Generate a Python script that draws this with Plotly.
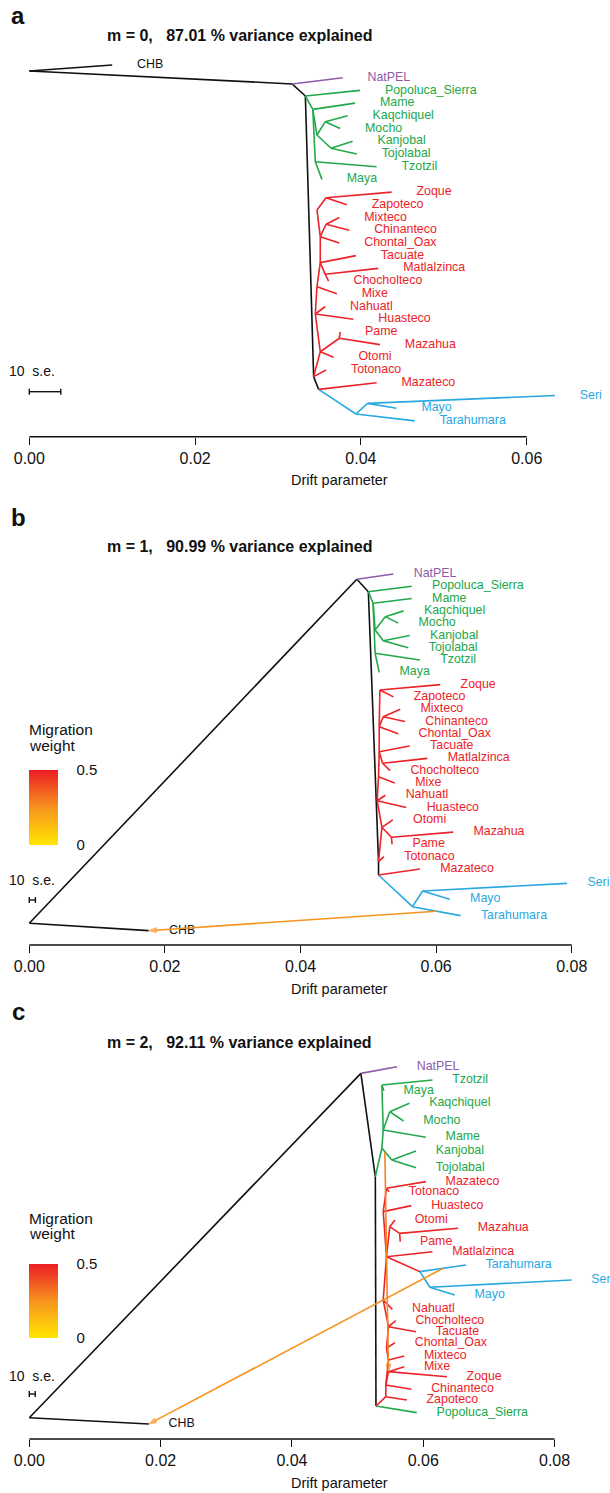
import plotly.graph_objects as go
from plotly.colors import sample_colorscale

W, H = 610, 1493
FONT = "Liberation Sans, Arial, Helvetica, sans-serif"

# ---------------- panel a (m = 0) ----------------
A_NAME = ["root", "CHB", "n1", "NatPEL", "n2", "nt", "nb",
          "Popoluca_Sierra", "m0", "Mame", "m1", "k1", "Kaqchiquel", "Mocho", "k2", "Kanjobal", "Tojolabal", "m2", "Tzotzil", "Maya",
          "ro", "Otomi", "pm", "Pame", "Mazahua", "Totonaco", "Mazateco", "rn", "Nahuatl", "Huasteco", "rm", "Mixe", "rt", "Tacuate",
          "rmc", "Matlalzinca", "Chocholteco", "rc", "Chontal_Oax", "rb", "Mixteco", "Chinanteco", "rz", "ra", "Zoque", "Zapoteco",
          "nn", "ns", "Seri", "Mayo", "Tarahumara"]
A_PARENT = [None, "root", "root", "n1", "n1", "n2", "nt",
            "n2", "n2", "m0", "m0", "m1", "k1", "k1", "m1", "k2", "k2", "m0", "m2", "m2",
            "nt", "ro", "ro", "pm", "pm", "nt", "nb", "ro", "rn", "rn", "rn", "rm", "rm", "rt",
            "rt", "rmc", "rmc", "rt", "rc", "rc", "rb", "rb", "rc", "rz", "ra", "ra",
            "nb", "nn", "ns", "ns", "nn"]
A_DRIFT = [0.0, 0.0100, 0.0317, 0.0378, 0.0333, 0.0343, 0.0349,
           0.0399, 0.0342, 0.0393, 0.0347, 0.0357, 0.0384, 0.0375, 0.0364, 0.0390, 0.0395, 0.0345, 0.0419, 0.0353,
           0.0351, 0.0367, 0.0374, 0.0375, 0.0423, 0.0358, 0.0419, 0.0345, 0.0357, 0.0391, 0.0347, 0.0371, 0.0351, 0.0394,
           0.0357, 0.0421, 0.0361, 0.0351, 0.0374, 0.0358, 0.0374, 0.0386, 0.0347, 0.0358, 0.0437, 0.0383,
           0.0394, 0.0408, 0.0634, 0.0443, 0.0465]
A_Y = [0.47, 0, 1.49, 1, 2.44, 24.52, 25.52,
       2, 3.49, 3, 5.51, 4.46, 4, 5, 6.55, 6, 7, 7.61, 8, 9,
       22.56, 23, 21.5, 21, 22, 24, 25, 19.59, 19, 20, 17.44, 18, 15.55, 15,
       16.47, 16, 17, 13.51, 14, 12.53, 12, 13, 11.41, 10.44, 10, 11,
       27.46, 26.62, 26, 27, 28]
A_GROUP = ["k", "k", "k", "p", "k", "k", "k"] + ["g"] * 13 + ["r"] * 26 + ["b"] * 5
A_MIG_FROM, A_MIG_AT, A_MIG_TO, A_MIG_W = [], [], [], []
A_TICKS = [0.00, 0.02, 0.04, 0.06]
A_TITLE = "m = 0,\u00a0\u00a0\u00a087.01 % variance explained"
A_SE10 = 0.0038

# ---------------- panel b (m = 1) ----------------
B_NAME = ["root", "CHB", "n1", "NatPEL", "n2", "nt", "nb",
          "Popoluca_Sierra", "m0", "Mame", "m1", "k1", "Kaqchiquel", "Mocho", "k2", "Kanjobal", "Tojolabal", "m2", "Tzotzil", "Maya",
          "ro", "Otomi", "pm", "Mazahua", "Pame", "Totonaco", "Mazateco", "rn", "Nahuatl", "Huasteco", "rm", "Mixe", "rt", "Tacuate",
          "rmc", "Matlalzinca", "Chocholteco", "rc", "Chontal_Oax", "rb", "Mixteco", "Chinanteco", "ra", "Zoque", "Zapoteco",
          "nn", "ns", "Seri", "Mayo", "Tarahumara"]
B_PARENT = [None, "root", "root", "n1", "n1", "n2", "nt",
            "n2", "n2", "m0", "m0", "m1", "k1", "k1", "m1", "k2", "k2", "m0", "m2", "m2",
            "nt", "ro", "ro", "pm", "pm", "nt", "nb", "ro", "rn", "rn", "rn", "rm", "rm", "rt",
            "rt", "rmc", "rmc", "rt", "rc", "rc", "rb", "rb", "rc", "ra", "ra",
            "nb", "nn", "ns", "ns", "nn"]
B_DRIFT = [0.0, 0.0176, 0.0483, 0.0537, 0.0500, 0.0515, 0.0515,
           0.0564, 0.0507, 0.0564, 0.0510, 0.0525, 0.0552, 0.0544, 0.0522, 0.0561, 0.0559, 0.0510, 0.0576, 0.0516,
           0.0520, 0.0536, 0.0534, 0.0625, 0.0535, 0.0523, 0.0576, 0.0513, 0.0525, 0.0556, 0.0515, 0.0539, 0.0516, 0.0561,
           0.0521, 0.0587, 0.0532, 0.0516, 0.0544, 0.0522, 0.0547, 0.0554, 0.0517, 0.0606, 0.0537,
           0.0565, 0.0580, 0.0793, 0.0620, 0.0636]
B_Y = [28.42, 29.02, 0.43, 0, 1.44, 23.41, 24.49,
       1, 2.38, 2, 4.56, 3.47, 3, 4, 5.43, 5, 6, 6.45, 7, 8,
       20.61, 20, 21.42, 21, 22, 23, 24, 18.45, 18, 19, 16.49, 17, 14.46, 14,
       15.40, 15, 16, 12.42, 13, 11.61, 11, 12, 9.44, 9, 10,
       27.07, 25.79, 25.17, 26.47, 27.8]
B_GROUP = ["k", "k", "k", "p", "k", "k", "k"] + ["g"] * 13 + ["r"] * 25 + ["b"] * 5
B_MIG_FROM = ["Tarahumara"]
B_MIG_AT = [0.5]
B_MIG_TO = ["CHB"]
B_MIG_W = [0.25]
B_TICKS = [0.00, 0.02, 0.04, 0.06, 0.08]
B_TITLE = "m = 1,\u00a0\u00a0\u00a090.99 % variance explained"
B_SE10 = 0.0009

# ---------------- panel c (m = 2) ----------------
C_NAME = ["root", "CHB", "n1", "NatPEL", "ng", "nbot",
          "Popoluca_Sierra", "g3", "gt", "Kanjobal", "Tojolabal", "g1", "gk", "Kaqchiquel", "Mocho", "Mame", "gm", "Tzotzil", "Maya",
          "rr", "Zapoteco", "r1", "Chinanteco", "r2", "Zoque", "Mixe", "r3", "Mixteco", "r4", "Chontal_Oax", "r5", "Chocholteco",
          "Tacuate", "r6", "Nahuatl", "r7", "Matlalzinca", "ttr",
          "Tarahumara", "ns", "Seri", "Mayo",
          "oa", "Otomi", "ob", "Mazahua", "Pame", "r9", "Huasteco", "r10", "Mazateco", "Totonaco"]
C_PARENT = [None, "root", "root", "n1", "n1", "ng",
            "nbot", "ng", "g3", "gt", "gt", "g3", "g1", "gk", "gk", "g1", "g1", "gm", "gm",
            "nbot", "rr", "rr", "r1", "r1", "r2", "r2", "r1", "r3", "r3", "r4", "r4", "r5",
            "r5", "r5", "r6", "r6", "r7", "r7",
            "ttr", "ttr", "ns", "ns",
            "r7", "oa", "oa", "ob", "ob", "r7", "r9", "r9", "r10", "r10"]
C_DRIFT = [0.0, 0.0182, 0.0505, 0.0560, 0.0527, 0.0528,
           0.0590, 0.0537, 0.0552, 0.0589, 0.0589, 0.0539, 0.0549, 0.0579, 0.0570, 0.0604, 0.0537, 0.0614, 0.0540,
           0.0543, 0.0575, 0.0543, 0.0582, 0.0547, 0.0636, 0.0571, 0.0547, 0.0571, 0.0544, 0.0557, 0.0547, 0.0558,
           0.0589, 0.0539, 0.0553, 0.0544, 0.0614, 0.0595,
           0.0665, 0.0610, 0.0826, 0.0648,
           0.0549, 0.0557, 0.0564, 0.0653, 0.0565, 0.0539, 0.0582, 0.0544, 0.0604, 0.0548]
C_Y = [27.49, 27.98, 0.52, 0, 8.61, 26.57,
       27.09, 6.37, 7.31, 6.60, 7.91, 4.96, 3.52, 2.87, 4.25, 5.53, 1.43, 1.04, 1.88,
       25.84, 26.10, 24.93, 25.26, 23.88, 24.28, 23.49, 22.97, 22.65, 22.05, 21.61, 20.36, 19.89,
       20.75, 18.27, 19.0, 14.88, 14.49, 16.05,
       15.53, 17.27, 16.70, 17.88,
       12.53, 12.0, 13.05, 12.65, 13.70, 11.35, 10.88, 9.52, 9.0, 9.79]
C_GROUP = ["k", "k", "k", "p", "k", "k"] + ["g"] * 13 + ["r"] * 19 + ["b"] * 4 + ["r"] * 10
C_MIG_FROM = ["Tarahumara", "gt"]
C_MIG_AT = [0.5, 0.3]
C_MIG_TO = ["CHB", "r2"]
C_MIG_W = [0.25, 0.28]
C_TICKS = [0.00, 0.02, 0.04, 0.06, 0.08]
C_TITLE = "m = 2,\u00a0\u00a0\u00a092.11 % variance explained"
C_SE10 = 0.0009

MIG_LEGEND_TICKS = [0, 0.5]
MIG_LEGEND_TEXT = ["0", "0.5"]

# ---------------- styling / layout ----------------
GROUP_COLORS = {"k": "#111111", "p": "#8e5ba9", "g": "#22a84b", "r": "#ec2329", "b": "#2aa8e0"}
MIG_SCALE = [[0.0, "#ffe600"], [0.5, "#f7931e"], [1.0, "#ec1c24"]]
MIG_MAX = 0.5
LABEL_GAP = 0.003
X0_PX = 29.3
INK = "#111111"

PANELS = [
    dict(letter="a", name=A_NAME, parent=A_PARENT, drift=A_DRIFT, y=A_Y, group=A_GROUP,
         mig=(A_MIG_FROM, A_MIG_AT, A_MIG_TO, A_MIG_W), ticks=A_TICKS, title=A_TITLE, se=A_SE10,
         axis_px=436.7, top_px=45, u0_px=65, u_px=12.71, kx=8290,
         letter_px=15, title_px=36, xlab_px=480, se_text_px=371, se_bar_px=391.7, legend=None),
    dict(letter="b", name=B_NAME, parent=B_PARENT, drift=B_DRIFT, y=B_Y, group=B_GROUP,
         mig=(B_MIG_FROM, B_MIG_AT, B_MIG_TO, B_MIG_W), ticks=B_TICKS, title=B_TITLE, se=B_SE10,
         axis_px=945, top_px=560, u0_px=574, u_px=12.29, kx=6781,
         letter_px=517, title_px=546, xlab_px=989, se_text_px=880, se_bar_px=900,
         legend=dict(t1=729, t2=745, bar=(770, 845), cax="coloraxis")),
    dict(letter="c", name=C_NAME, parent=C_PARENT, drift=C_DRIFT, y=C_Y, group=C_GROUP,
         mig=(C_MIG_FROM, C_MIG_AT, C_MIG_TO, C_MIG_W), ticks=C_TICKS, title=C_TITLE, se=C_SE10,
         axis_px=1439, top_px=1052, u0_px=1066.7, u_px=12.77, kx=6566,
         letter_px=1012, title_px=1042, xlab_px=1483, se_text_px=1376, se_bar_px=1394,
         legend=dict(t1=1218, t2=1233, bar=(1264, 1338), cax="coloraxis2")),
]


def py(px):
    return 1 - px / H


fig = go.Figure()
layout = dict(width=W, height=H, margin=dict(l=0, r=0, t=0, b=0), autosize=False,
              paper_bgcolor="white", plot_bgcolor="white", showlegend=False)
annotations, shapes = [], []

for i, P in enumerate(PANELS):
    n = i + 1
    xa = "x" if n == 1 else f"x{n}"
    ya = "y" if n == 1 else f"y{n}"
    idx = {nm: j for j, nm in enumerate(P["name"])}
    assert len(P["name"]) == len(P["parent"]) == len(P["drift"]) == len(P["y"]) == len(P["group"])
    parents = set(p for p in P["parent"] if p)

    # tree edges, one trace per colour group
    for g in ["k", "p", "g", "b", "r"]:
        xs, ys = [], []
        for j, nm in enumerate(P["name"]):
            par = P["parent"][j]
            if par is None or P["group"][j] != g:
                continue
            pj = idx[par]
            xs += [P["drift"][pj], P["drift"][j], None]
            ys += [P["y"][pj], P["y"][j], None]
        if xs:
            fig.add_trace(go.Scatter(x=xs, y=ys, xaxis=xa, yaxis=ya, mode="lines",
                                     line=dict(color=GROUP_COLORS[g], width=1.6),
                                     hoverinfo="skip", showlegend=False))

    # leaf labels
    for g in ["k", "p", "g", "r", "b"]:
        lx, ly, lt = [], [], []
        for j, nm in enumerate(P["name"]):
            if nm in parents or P["group"][j] != g or P["parent"][j] is None:
                continue
            lx.append(P["drift"][j] + LABEL_GAP)
            ly.append(P["y"][j])
            lt.append(nm)
        if lx:
            fig.add_trace(go.Scatter(x=lx, y=ly, text=lt, xaxis=xa, yaxis=ya, mode="text",
                                     textposition="middle right", cliponaxis=False,
                                     textfont=dict(family=FONT, size=12.4, color=GROUP_COLORS[g]),
                                     hoverinfo="skip", showlegend=False))

    # migration edges
    mfrom, mat, mto, mw = P["mig"]
    for src, frac, dst, w in zip(mfrom, mat, mto, mw):
        sj = idx[src]
        pj = idx[P["parent"][sj]]
        sx = P["drift"][pj] + frac * (P["drift"][sj] - P["drift"][pj])
        sy = P["y"][pj] + frac * (P["y"][sj] - P["y"][pj])
        dj = idx[dst]
        col = sample_colorscale(MIG_SCALE, [w / MIG_MAX])[0]
        fig.add_trace(go.Scatter(x=[sx, P["drift"][dj]], y=[sy, P["y"][dj]], xaxis=xa, yaxis=ya,
                                 mode="lines+markers",
                                 line=dict(color=col, width=1.6),
                                 marker=dict(symbol="arrow", size=[0, 8], angleref="previous",
                                             color=[w, w], coloraxis=P["legend"]["cax"]),
                                 hoverinfo="skip", showlegend=False))

    kx = P["kx"]
    xkey = "xaxis" if n == 1 else f"xaxis{n}"
    ykey = "yaxis" if n == 1 else f"yaxis{n}"
    layout[xkey] = dict(domain=[0, 1], range=[-X0_PX / kx, (W - X0_PX) / kx], anchor=ya,
                        tickvals=P["ticks"], ticktext=[f"{t:.2f}" for t in P["ticks"]],
                        ticks="outside", ticklen=7, tickwidth=1.4, tickcolor=INK,
                        showline=False, showgrid=False, zeroline=False,
                        tickfont=dict(family=FONT, size=16, color=INK), fixedrange=True)
    layout[ykey] = dict(domain=[py(P["axis_px"]), py(P["top_px"])],
                        range=[(P["axis_px"] - P["u0_px"]) / P["u_px"], (P["top_px"] - P["u0_px"]) / P["u_px"]],
                        visible=False, anchor=xa, fixedrange=True)

    # axis line spanning the ticks
    shapes.append(dict(type="line", xref=xa, yref=f"{ya} domain", x0=P["ticks"][0], x1=P["ticks"][-1],
                       y0=0, y1=0, line=dict(color=INK, width=1.4)))
    # 10 s.e. scale bar
    yb = py(P["se_bar_px"])
    cap = 3 / H
    shapes.append(dict(type="line", xref=xa, yref="paper", x0=0, x1=P["se"], y0=yb, y1=yb,
                       line=dict(color=INK, width=1.4)))
    for xv in (0, P["se"]):
        shapes.append(dict(type="line", xref=xa, yref="paper", x0=xv, x1=xv, y0=yb - cap, y1=yb + cap,
                           line=dict(color=INK, width=1.4)))

    annotations += [
        dict(text=f"<b>{P['letter']}</b>", x=18 / W, y=py(P["letter_px"]), xref="paper", yref="paper",
             showarrow=False, font=dict(family=FONT, size=24, color=INK), xanchor="center", yanchor="middle"),
        dict(text=f"<b>{P['title']}</b>", x=239 / W, y=py(P["title_px"]), xref="paper", yref="paper",
             showarrow=False, font=dict(family=FONT, size=16, color=INK), xanchor="center", yanchor="middle"),
        dict(text="Drift parameter", x=340 / W, y=py(P["xlab_px"]), xref="paper", yref="paper",
             showarrow=False, font=dict(family=FONT, size=14.5, color=INK), xanchor="center", yanchor="middle"),
        dict(text="10\u00a0\u00a0s.e.", x=32 / W, y=py(P["se_text_px"]), xref="paper", yref="paper",
             showarrow=False, font=dict(family=FONT, size=14, color=INK), xanchor="center", yanchor="middle"),
    ]

    if P["legend"]:
        L = P["legend"]
        for t, ypx in (("Migration", L["t1"]), ("weight", L["t2"])):
            annotations.append(dict(text=t, x=27 / W, y=py(ypx), xref="paper", yref="paper",
                                    showarrow=False, font=dict(family=FONT, size=15.5, color=INK),
                                    xanchor="left", yanchor="middle"))
        b0, b1 = L["bar"]
        layout[L["cax"]] = dict(
            colorscale=MIG_SCALE, cmin=0, cmax=MIG_MAX,
            colorbar=dict(x=X0_PX / W, xanchor="left", xpad=0, y=py((b0 + b1) / 2), yanchor="middle", ypad=0,
                          len=b1 - b0, lenmode="pixels", thickness=29, thicknessmode="pixels",
                          outlinewidth=0, tickvals=MIG_LEGEND_TICKS, ticktext=MIG_LEGEND_TEXT,
                          ticks="outside", ticklen=16, tickcolor="rgba(0,0,0,0)",
                          tickfont=dict(family=FONT, size=15, color=INK)))

layout["annotations"] = annotations
layout["shapes"] = shapes
fig.update_layout(**layout)
fig.write_html("out.html")
